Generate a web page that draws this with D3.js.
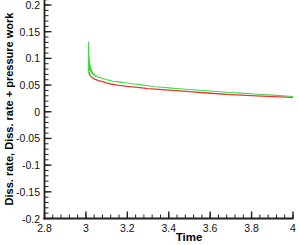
<!DOCTYPE html>
<html><head><meta charset="utf-8">
<script src="https://cdn.jsdelivr.net/npm/d3@7"></script>
<style>body{margin:0;background:#fff}svg{display:block}</style>
</head><body><svg id="c" width="299" height="245"></svg>
<script>
const xTicks = [2.8, 3, 3.2, 3.4, 3.6, 3.8, 4];
const xTickLabels = ["2.8", "3", "3.2", "3.4", "3.6", "3.8", "4"];
const yTicks = [-0.2, -0.15, -0.1, -0.05, 0, 0.05, 0.1, 0.15, 0.2];
const yTickLabels = ["-0.2", "-0.15", "-0.1", "-0.05", "0", "0.05", "0.1", "0.15", "0.2"];
const xTitle = "Time";
const yTitle = "Diss. rate, Diss. rate + pressure work";

const redTime = [3.014, 3.02, 3.03, 3.04, 3.06, 3.08, 3.1, 3.12, 3.15, 3.2, 3.25, 3.3, 3.35, 3.4, 3.5, 3.6, 3.7, 3.8, 3.9, 4.0];
const redValue = [0.074, 0.068, 0.064, 0.0615, 0.0585, 0.0565, 0.054, 0.052, 0.050, 0.0475, 0.0455, 0.0435, 0.042, 0.0405, 0.0378, 0.0347, 0.0322, 0.0302, 0.0285, 0.0268];

const greenTime = [3.012, 3.0125, 3.013, 3.0135, 3.014, 3.0145, 3.015, 3.016, 3.017, 3.018, 3.019, 3.021, 3.023, 3.025, 3.028, 3.031, 3.035, 3.04, 3.045, 3.05, 3.06, 3.07, 3.08, 3.09, 3.1, 3.116, 3.13, 3.15, 3.18, 3.2, 3.23, 3.26, 3.3, 3.333, 3.37, 3.4, 3.45, 3.5, 3.55, 3.6, 3.65, 3.7, 3.75, 3.8, 3.85, 3.9, 3.95, 4.0];
const greenValue = [0.072, 0.131, 0.09, 0.118, 0.085, 0.105, 0.079, 0.100, 0.077, 0.095, 0.076, 0.088, 0.074, 0.083, 0.071, 0.076, 0.069, 0.071, 0.066, 0.068, 0.064, 0.0645, 0.062, 0.0615, 0.060, 0.0588, 0.057, 0.0565, 0.0545, 0.0538, 0.052, 0.0508, 0.0487, 0.0468, 0.0458, 0.0448, 0.0432, 0.0418, 0.0403, 0.0389, 0.0376, 0.0362, 0.0349, 0.0336, 0.0323, 0.0311, 0.0299, 0.0287];

const svg = d3.select("#c");
const x = d3.scaleLinear().domain([2.8, 4]).range([44.5, 293]);
const y = d3.scaleLinear().domain([-0.2, 0.2]).range([218.5, 5]);
const axisColor = "#222";

// lines
const line = d3.line().x(d => x(d[0])).y(d => y(d[1]));
svg.append("path").datum(redTime.map((t, i) => [t, redValue[i]]))
  .attr("d", line).attr("fill", "none").attr("stroke", "#e23a3a").attr("stroke-width", 1.3);
svg.append("path").datum(greenTime.map((t, i) => [t, greenValue[i]]))
  .attr("d", line).attr("fill", "none").attr("stroke", "#45d845").attr("stroke-width", 1.1);

// minor ticks
const xMinor = d3.range(0, 31).map(i => 2.8 + i * 0.04).filter(v => v <= 4.0001);
const yMinor = d3.range(0, 42).map(i => -0.2 + i * 0.01).filter(v => v <= 0.2101);
const g = svg.append("g").attr("stroke", axisColor);
g.selectAll(".xm").data(xMinor).join("line")
  .attr("x1", d => x(d)).attr("x2", d => x(d)).attr("y1", 218.5).attr("y2", 214.5).attr("stroke-width", 1);
g.selectAll(".ym").data(yMinor).join("line")
  .attr("y1", d => y(d)).attr("y2", d => y(d)).attr("x1", 44.5).attr("x2", 48.5).attr("stroke-width", 1);
g.selectAll(".xM").data(xTicks).join("line")
  .attr("x1", d => x(d)).attr("x2", d => x(d)).attr("y1", 218.5).attr("y2", 211.5).attr("stroke-width", 1.4);
g.selectAll(".yM").data(yTicks).join("line")
  .attr("y1", d => y(d)).attr("y2", d => y(d)).attr("x1", 44.5).attr("x2", 51.5).attr("stroke-width", 1.4);
// axis lines
g.append("line").attr("x1", 44.5).attr("x2", 44.5).attr("y1", 0).attr("y2", 219.5).attr("stroke-width", 1.8);
g.append("line").attr("x1", 43.5).attr("x2", 293.5).attr("y1", 218.5).attr("y2", 218.5).attr("stroke-width", 1.8);

const font = "'Liberation Sans', Arial, sans-serif";
svg.selectAll(".xl").data(xTicks).join("text")
  .attr("x", d => x(d)).attr("y", 232).attr("text-anchor", "middle")
  .attr("font-family", font).attr("font-size", 10.5).attr("fill", "#111")
  .text((d, i) => xTickLabels[i]);
svg.selectAll(".yl").data(yTicks).join("text")
  .attr("x", 40).attr("y", d => y(d) + 4).attr("text-anchor", "end")
  .attr("font-family", font).attr("font-size", 10.5).attr("fill", "#111")
  .text((d, i) => yTickLabels[i]);
svg.append("text").attr("x", 189).attr("y", 241).attr("text-anchor", "middle")
  .attr("font-family", font).attr("font-size", 11.5).attr("font-weight", "bold").attr("fill", "#000")
  .text(xTitle);
svg.append("text").attr("transform", "translate(13,109) rotate(-90)").attr("text-anchor", "middle")
  .attr("font-family", font).attr("font-size", 11).attr("font-weight", "bold").attr("fill", "#000")
  .text(yTitle);
</script></body></html>
